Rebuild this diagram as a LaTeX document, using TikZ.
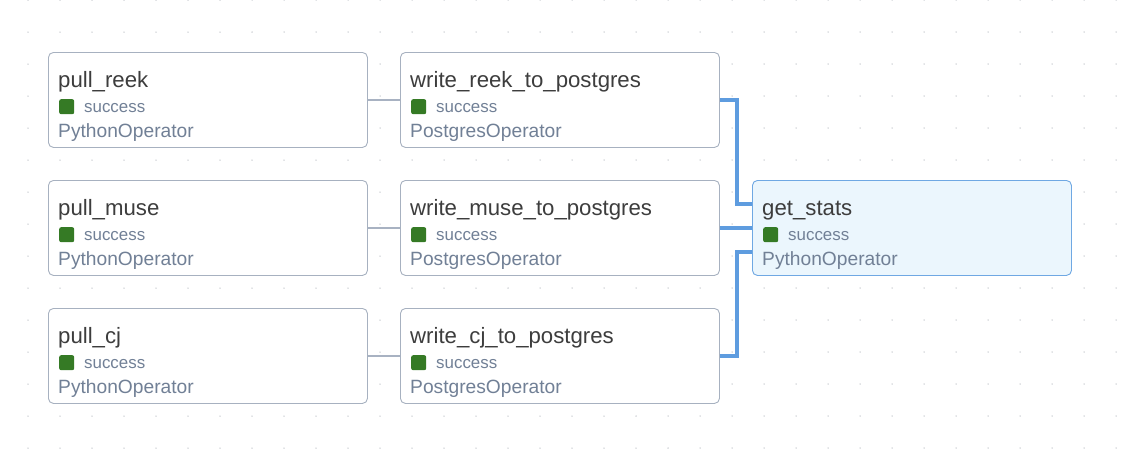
\documentclass[tikz,border=0pt]{standalone}
\usepackage{fontspec}
\setmainfont{Liberation Sans}
\definecolor{dotc}{HTML}{C4C8CD}
\definecolor{boxborder}{HTML}{A7B1C0}
\definecolor{titlec}{HTML}{3D3D3D}
\definecolor{metac}{HTML}{718096}
\definecolor{okgreen}{HTML}{357A25}
\definecolor{edgeblue}{HTML}{5E9CDF}
\definecolor{selfill}{HTML}{EBF6FD}
\definecolor{selborder}{HTML}{6FA8E3}
\definecolor{edgegray}{HTML}{A8B2C2}
\tikzset{
  taskbox/.style={draw=boxborder, fill=white, line width=0.9pt, rounded corners=5pt,
    minimum width=319pt, minimum height=95pt, inner sep=0pt, anchor=north west},
  selbox/.style={taskbox, draw=selborder, fill=selfill},
  titletext/.style={anchor=base west, inner sep=0pt, text=titlec, font=\fontsize{22.2}{25}\selectfont},
  statetext/.style={anchor=base west, inner sep=0pt, text=metac, font=\fontsize{16.9}{19}\selectfont},
  optext/.style={anchor=base west, inner sep=0pt, text=metac, font=\fontsize{19.2}{22}\selectfont},
  statebox/.style={fill=okgreen, rounded corners=2pt, minimum size=15pt, inner sep=0pt, anchor=north west},
  grayedge/.style={draw=edgegray, line width=2.2pt},
  blueedge/.style={draw=edgeblue, line width=4pt},
}
\newcommand{\taskitem}[6]{%
  \node[#6] (#1) at (#2,#3) {};
  \node[titletext] (#1-t) at (#2+10,#3+35) {#4};
  \node[statebox] (#1-s) at (#2+11,#3+47) {};
  \node[statetext] (#1-st) at (#2+36,#3+60) {success};
  \node[optext] (#1-o) at (#2+10,#3+85.5) {#5};
}
\begin{document}
\begin{tikzpicture}[x=1pt,y=-1pt]
\useasboundingbox (0,0) rectangle (1132,464);
\fill[white] (0,0) rectangle (1132,464);
% dot grid
\foreach \i in {0,...,34} {
  \foreach \j in {0,...,14} {
    \fill[dotc] (28+32*\i, 32*\j) circle (0.75pt);
  }
}
% tasks
\taskitem{pr}{48}{52}{pull\_reek}{PythonOperator}{taskbox}
\taskitem{pm}{48}{180}{pull\_muse}{PythonOperator}{taskbox}
\taskitem{pc}{48}{308}{pull\_cj}{PythonOperator}{taskbox}
\taskitem{wr}{400}{52}{write\_reek\_to\_postgres}{PostgresOperator}{taskbox}
\taskitem{wm}{400}{180}{write\_muse\_to\_postgres}{PostgresOperator}{taskbox}
\taskitem{wc}{400}{308}{write\_cj\_to\_postgres}{PostgresOperator}{taskbox}
\taskitem{gs}{752}{180}{get\_stats}{PythonOperator}{selbox}
% edges
\draw[grayedge] (pr.east) -- (wr.west);
\draw[grayedge] (pm.east) -- (wm.west);
\draw[grayedge] (pc.east) -- (wc.west);
\draw[blueedge] (wr.east) -- ++(17,0) |- ([yshift=23.5pt]gs.west);
\draw[blueedge] (wm.east) -- (gs.west);
\draw[blueedge] (wc.east) -- ++(17,0) |- ([yshift=-24.5pt]gs.west);
\end{tikzpicture}
\end{document}
